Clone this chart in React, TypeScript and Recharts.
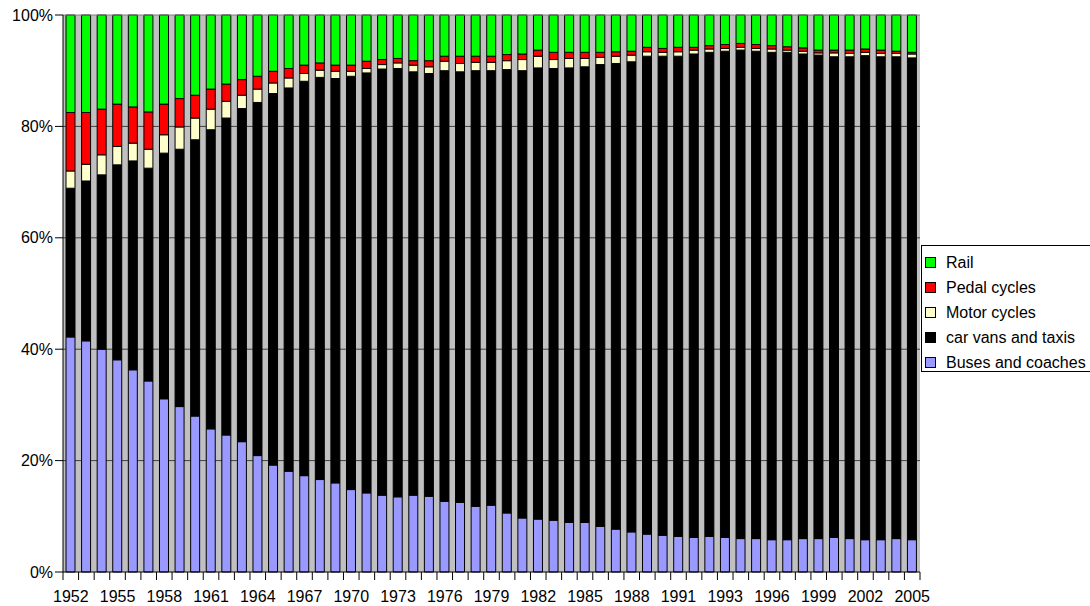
import { BarChart, Bar, XAxis, YAxis, CartesianGrid, ReferenceLine } from "recharts"

const years = [
  "1952", "1953", "1954", "1955", "1956", "1957", "1958", "1959", "1960", "1961",
  "1962", "1963", "1964", "1965", "1966", "1967", "1968", "1969", "1970", "1971",
  "1972", "1973", "1974", "1975", "1976", "1977", "1978", "1979", "1980", "1981",
  "1982", "1983", "1984", "1985", "1986", "1987", "1988", "1989", "1990", "1991",
  "1992", "1993", "1993",
  "1994", "1995", "1996", "1997", "1998", "1999", "2000", "2001", "2002", "2003", "2004", "2005",
]

// share of passenger km, percent
const buses = [
  42.2, 41.5, 40.0, 38.1, 36.3, 34.3, 31.1, 29.7, 28.0, 25.7,
  24.6, 23.4, 20.9, 19.2, 18.1, 17.3, 16.6, 16.0, 14.8, 14.2,
  13.8, 13.5, 13.8, 13.6, 12.7, 12.5, 11.8, 12.0, 10.6, 9.7,
  9.5, 9.3, 8.9, 8.9, 8.2, 7.7, 7.2, 6.8, 6.6, 6.4,
  6.2, 6.4, 6.2,
  6.0, 6.0, 5.8, 5.8, 6.0, 6.0, 6.2, 6.0, 5.8, 5.8, 6.0, 5.8,
]
const cars = [
  26.7, 28.7, 31.3, 35.0, 37.5, 38.2, 44.1, 46.2, 49.6, 53.7,
  56.9, 59.8, 63.4, 66.7, 68.8, 70.8, 72.2, 72.6, 74.2, 75.4,
  76.5, 76.9, 76.0, 75.9, 77.3, 77.3, 78.2, 78.0, 79.6, 80.3,
  81.0, 81.1, 81.6, 81.8, 82.9, 83.6, 84.4, 85.8, 86.0, 86.2,
  86.8, 86.9, 87.3,
  87.7, 87.5, 87.5, 87.5, 87.0, 86.8, 86.3, 86.5, 86.9, 86.7, 86.5, 86.5,
]
const motorCycles = [
  3.1, 3.0, 3.6, 3.3, 3.2, 3.4, 3.3, 4.0, 3.9, 3.7,
  3.0, 2.4, 2.4, 1.9, 1.8, 1.4, 1.3, 1.3, 0.9, 0.8,
  0.8, 1.0, 1.2, 1.2, 1.7, 1.5, 1.5, 1.5, 1.6, 2.0,
  2.1, 1.6, 1.7, 1.5, 1.3, 1.3, 1.2, 0.8, 0.7, 0.8,
  0.7, 0.6, 0.5,
  0.5, 0.5, 0.6, 0.4, 0.5, 0.4, 0.7, 0.6, 0.6, 0.6, 0.6, 0.7,
]
const pedalCycles = [
  10.5, 9.3, 8.2, 7.6, 6.5, 6.7, 5.5, 5.1, 4.1, 3.6,
  3.1, 2.8, 2.3, 2.1, 1.7, 1.5, 1.3, 1.1, 1.1, 1.3,
  0.9, 0.8, 0.8, 1.1, 0.9, 1.3, 1.1, 1.1, 1.1, 1.0,
  1.1, 1.3, 1.1, 1.1, 0.9, 0.8, 0.7, 0.8, 0.7, 0.8,
  0.5, 0.6, 0.7,
  0.7, 0.7, 0.6, 0.6, 0.6, 0.5, 0.5, 0.6, 0.6, 0.6, 0.4, 0.3,
]
const rail = [
  17.5, 17.5, 16.9, 16.0, 16.5, 17.4, 16.0, 15.0, 14.4, 13.3,
  12.4, 11.6, 11.0, 10.1, 9.6, 9.0, 8.6, 9.0, 9.0, 8.3,
  8.0, 7.8, 8.2, 8.2, 7.4, 7.4, 7.4, 7.4, 7.1, 7.0,
  6.3, 6.7, 6.7, 6.7, 6.7, 6.6, 6.5, 5.8, 6.0, 5.8,
  5.8, 5.5, 5.3,
  5.1, 5.3, 5.5, 5.7, 5.9, 6.3, 6.3, 6.3, 6.1, 6.3, 6.5, 6.7,
]

const yTicks = [0, 0.2, 0.4, 0.6, 0.8, 1]

// bottom to top stacking order
const series = [
  { key: "buses", name: "Buses and coaches", color: "#9999FF" },
  { key: "cars", name: "car vans and taxis", color: "#000000" },
  { key: "motor", name: "Motor cycles", color: "#FFFFCC" },
  { key: "pedal", name: "Pedal cycles", color: "#FF0000" },
  { key: "rail", name: "Rail", color: "#00FF00" },
]

const data = years.map((year, i) => ({
  year,
  buses: buses[i],
  cars: cars[i],
  motor: motorCycles[i],
  pedal: pedalCycles[i],
  rail: rail[i],
}))

const W = 1090
const H = 606
const LEFT = 63
const RIGHT = 920
const STEP = (RIGHT - LEFT) / years.length
const FONT = "'Liberation Sans', Arial, sans-serif"

function YearTick(props: any) {
  const { x, y, index, payload } = props
  const i = index ?? payload?.index ?? 0
  return (
    <g>
      <line x1={x - STEP / 2} x2={x - STEP / 2} y1={y} y2={y + 8} stroke="#000" />
      {i === years.length - 1 && (
        <line x1={x + STEP / 2} x2={x + STEP / 2} y1={y} y2={y + 8} stroke="#000" />
      )}
      {i % 3 === 0 && (
        <text x={x} y={y + 29.5} textAnchor="middle" fontSize={16} fill="#000" fontFamily={FONT}>
          {payload.value}
        </text>
      )}
    </g>
  )
}

function LegendBox() {
  return (
    <div
      style={{
        position: "absolute",
        left: 921,
        top: 245,
        width: 175,
        height: 127,
        boxSizing: "border-box",
        border: "1px solid #000",
        background: "#fff",
        fontFamily: FONT,
        fontSize: 16,
        paddingTop: 4,
      }}
    >
      {[...series].reverse().map((s) => (
        <div key={s.key} style={{ display: "flex", alignItems: "center", height: 25 }}>
          <span
            style={{
              display: "inline-block",
              width: 9,
              height: 9,
              marginLeft: 3,
              marginRight: 10,
              background: s.color,
              border: "1px solid #000",
            }}
          />
          <span style={{ whiteSpace: "nowrap" }}>{s.name}</span>
        </div>
      ))}
    </div>
  )
}

export default function App() {
  return (
    <div style={{ position: "absolute", left: 0, top: 0, width: W, height: H, background: "#fff", overflow: "hidden" }}>
      <BarChart
        width={W}
        height={H}
        data={data}
        stackOffset="expand"
        barCategoryGap={0}
        margin={{ top: 15, right: W - RIGHT, bottom: 0, left: 0 }}
        style={{ fontFamily: FONT }}
      >
        <CartesianGrid vertical={false} fill="#C0C0C0" stroke="#404040" horizontalValues={[0.2, 0.4, 0.6, 0.8]} />
        <XAxis
          dataKey="year"
          height={34}
          interval={0}
          tickSize={0}
          tickMargin={0}
          tickLine={false}
          axisLine={{ stroke: "#000" }}
          tick={(p: any) => <YearTick {...p} />}
        />
        <YAxis
          width={LEFT}
          ticks={yTicks}
          domain={[0, 1]}
          tickSize={8}
          tickMargin={2}
          tickFormatter={(v: number) => `${Math.round(v * 100)}%`}
          tick={{ fontSize: 16, fill: "#000", fontFamily: FONT }}
          axisLine={{ stroke: "#000" }}
          tickLine={{ stroke: "#000" }}
        />
        <ReferenceLine y={1} stroke="#808080" />
        {series.map((s) => (
          <Bar
            key={s.key}
            dataKey={s.key}
            name={s.name}
            stackId="a"
            fill={s.color}
            stroke="#000"
            strokeWidth={1}
            barSize={9}
            isAnimationActive={false}
          />
        ))}
      </BarChart>
      <LegendBox />
    </div>
  )
}
